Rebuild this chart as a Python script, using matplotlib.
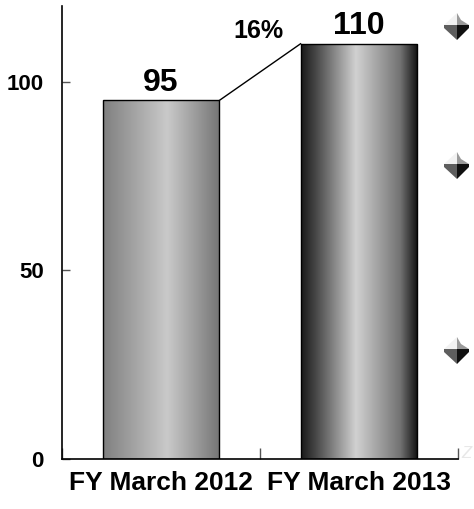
import numpy as np
import matplotlib
matplotlib.use("Agg")
import matplotlib.pyplot as plt
from matplotlib.patches import Polygon
from matplotlib.colors import LinearSegmentedColormap

plt.rcParams['font.family'] = ['Liberation Sans', 'DejaVu Sans']

categories = ["FY March 2012", "FY March 2013"]
values = [95, 110]
growth_label = "16%"
y_ticks = [0, 50, 100]

# horizontal shading of each bar: (position, grey level)
shades = [
    [(0.0, 0.50), (0.55, 0.79), (1.0, 0.46)],
    [(0.0, 0.10), (0.12, 0.27), (0.47, 0.82), (0.85, 0.45), (1.0, 0.06)],
]

W, H = 474, 509
fig = plt.figure(figsize=(W / 100, H / 100), dpi=100)
ax = fig.add_axes([62 / W, 50 / H, 396 / W, 453 / H])

bars = ax.bar(range(len(values)), values, width=0.59, facecolor='none',
              edgecolor='black', linewidth=1.0, zorder=3)

for bar, stops in zip(bars, shades):
    cmap = LinearSegmentedColormap.from_list(
        'shade', [(p, (g, g, g)) for p, g in stops])
    x0, w, h = bar.get_x(), bar.get_width(), bar.get_height()
    img = ax.imshow(np.linspace(0, 1, 256)[None, :], cmap=cmap, aspect='auto',
                    extent=(x0, x0 + w, 0, h), zorder=2, interpolation='bilinear')
    img.set_clip_path(bar)

# connector between the two bar tops
b0, b1 = bars[0], bars[1]
ax.plot([b0.get_x() + b0.get_width(), b1.get_x()],
        [b0.get_height(), b1.get_height()], color='black', lw=1.0, zorder=4)

for i, v in enumerate(values):
    ax.annotate(f"{v}", (i, v), xytext=(0, 2), textcoords='offset points',
                ha='center', va='bottom', fontsize=23, fontweight='bold')

ax.text(0.49, 113.5, growth_label, ha='center', va='center',
        fontsize=18, fontweight='bold')

ax.set_xlim(-0.5, 1.5)
ax.set_ylim(0, 120)
ax.set_yticks(y_ticks)
ax.set_yticklabels([str(t) for t in y_ticks], fontsize=16, fontweight='bold')
ax.tick_params(axis='y', direction='in', length=6, width=1, color='#555555', pad=13)

ax.set_xticks([-0.5, 0.5, 1.5])
ax.set_xticklabels([])
ax.tick_params(axis='x', which='major', direction='in', length=8, width=1, color='#555555')
ax.set_xticks(range(len(categories)), minor=True)
ax.set_xticklabels(categories, minor=True, fontsize=19, fontweight='bold')
ax.tick_params(axis='x', which='minor', length=0, pad=9)

for s in ['top', 'right']:
    ax.spines[s].set_visible(False)
for s in ['left', 'bottom']:
    ax.spines[s].set_linewidth(1.2)

# bullet markers down the right side
def px(x, y):
    return (x / W, 1 - y / H)

for cy in [25, 164, 349]:
    cx = 457
    top = (cx, cy - 12)
    left, right, mid = (cx - 13, cy), (cx + 12, cy), (cx, cy)
    left2, right2 = (cx - 13, cy + 3), (cx + 12, cy + 3)
    bottom = (cx, cy + 15)
    pieces = [
        ([top, left, mid], '#f2f2f2'),
        ([top, (cx + 4, cy - 5), right, mid], '#9a9a9a'),
        ([left, left2, bottom, mid], '#5e5e5e'),
        ([mid, bottom, right2, right], '#101010'),
    ]
    for pts, c in pieces:
        fig.patches.append(Polygon([px(*p) for p in pts], closed=True,
                                   transform=fig.transFigure, facecolor=c,
                                   edgecolor='none'))

fig.text(px(466, 454)[0], px(466, 454)[1], "Z", color='#e8e8e8', fontsize=12,
         style='italic', ha='center', va='center')

fig.savefig("out.png", dpi=100)
